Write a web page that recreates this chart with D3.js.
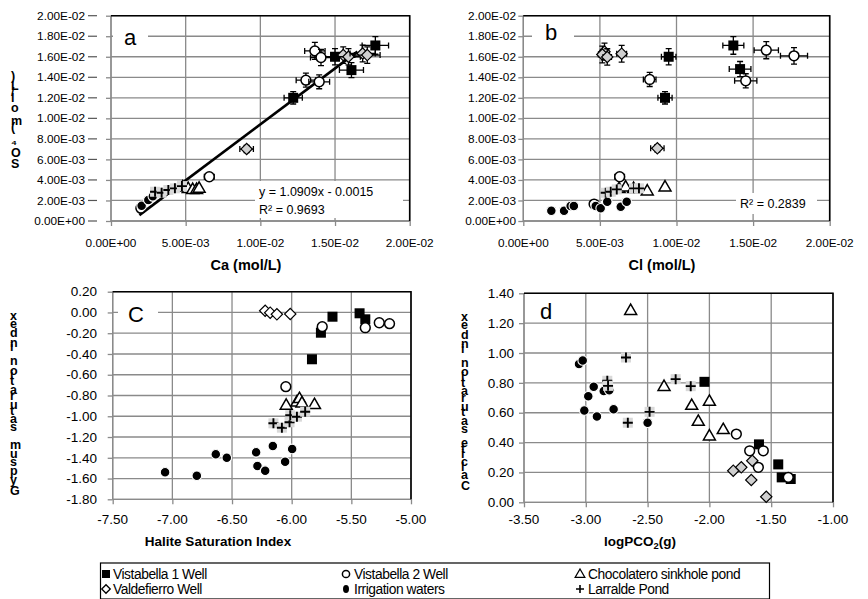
<!DOCTYPE html>
<html><head><meta charset="utf-8">
<script src="https://cdn.jsdelivr.net/npm/d3@7"></script>
<style>
html,body{margin:0;padding:0;background:#fff;}
svg{display:block;font-family:"Liberation Sans",Arial,sans-serif;}
</style></head>
<body><svg id="c" width="868" height="599"></svg>
<script>
// ---------- DATA ----------
const seriesNames = ["Vistabella 1 Well","Vistabella 2 Well","Chocolatero sinkhole pond","Valdefierro Well","Irrigation waters","Larralde Pond"];
// Panel a: Ca (mol/L) vs SO4 (mol/L)
const aV1 = [[0.0177,0.0171],[0.0150,0.0160],[0.0161,0.0147],[0.0122,0.0120]];
const aV2 = [[0.01365,0.01657],[0.01406,0.01593],[0.01305,0.01372],[0.01394,0.01356],[0.00658,0.00431],[0.00200,0.00125]];
const aCh = [[0.00480,0.00334],[0.00517,0.00320],[0.00547,0.00310],[0.00573,0.00310],[0.00590,0.00322]];
const aVa = [[0.01555,0.01616],[0.01590,0.01600],[0.01685,0.01632],[0.01716,0.01616],[0.00908,0.00701]];
const aIr = [[0.00205,0.00148],[0.00250,0.00205],[0.00280,0.00240],[0.00330,0.00280]];
const aLa = [[0.00295,0.00285],[0.00339,0.00275],[0.00384,0.00302],[0.00428,0.00318],[0.00475,0.00340]];
const aFit = {slope:1.0909, intercept:-0.0015, r2:0.9693, xFrom:0.00190, xTo:0.01650};
// Panel b: Cl (mol/L) vs SO4 (mol/L)
const bV1 = [[0.01371,0.0171],[0.00949,0.0160],[0.01415,0.0148],[0.00925,0.0120]];
const bV2 = [[0.01586,0.01664],[0.01767,0.01609],[0.01452,0.01366],[0.00825,0.01379],[0.00629,0.00431],[0.00462,0.00165]];
const bCh = [[0.00625,0.00318],[0.00668,0.00334],[0.00809,0.00295],[0.00925,0.00334],[0.00720,0.00320]];
const bVa = [[0.00530,0.01650],[0.00516,0.01622],[0.00548,0.01598],[0.00642,0.01630],[0.00875,0.00708]];
const bIr = [[0.00183,0.00100],[0.00266,0.00100],[0.00309,0.00146],[0.00330,0.00146],[0.00473,0.00146],[0.00505,0.00124],[0.00548,0.00188],[0.00636,0.00139],[0.00675,0.00188]];
const bLa = [[0.00538,0.00275],[0.00571,0.00285],[0.00610,0.00308],[0.00723,0.00318],[0.00755,0.00318]];
const bR2 = 0.2839;
// Panel c: Halite SI vs Gypsum SI
const cV1 = [[-5.658,-0.041],[-5.431,-0.008],[-5.383,-0.066],[-5.755,-0.195],[-5.830,-0.451]];
const cV2 = [[-6.049,-0.715],[-5.744,-0.137],[-5.383,-0.147],[-5.266,-0.099],[-5.180,-0.108]];
const cCh = [[-6.046,-0.891],[-5.956,-0.860],[-5.935,-0.827],[-5.914,-0.869],[-5.809,-0.885]];
const cVa = [[-6.222,0.017],[-6.180,-0.002],[-6.124,-0.018],[-6.012,-0.015]];
const cIr = [[-7.061,-1.540],[-6.795,-1.573],[-6.636,-1.366],[-6.544,-1.399],[-6.298,-1.347],[-6.287,-1.479],[-6.222,-1.524],[-6.158,-1.287],[-6.055,-1.438],[-5.996,-1.315]];
const cLa = [[-6.153,-1.068],[-6.082,-1.110],[-6.018,-1.058],[-6.012,-0.990],[-5.956,-1.004],[-5.887,-0.956]];
// Panel d: logPCO2(g) vs Calcite SI
const dV1 = [[-2.040,0.807],[-1.599,0.388],[-1.443,0.254],[-1.415,0.167],[-1.342,0.156]];
const dV2 = [[-1.782,0.457],[-1.674,0.345],[-1.564,0.345],[-1.604,0.234],[-1.362,0.167]];
const dCh = [[-2.637,1.287],[-2.367,0.778],[-2.143,0.651],[-2.090,0.544],[-2.000,0.678],[-2.000,0.446],[-1.888,0.489]];
const dVa = [[-1.807,0.212],[-1.742,0.234],[-1.653,0.278],[-1.661,0.149],[-1.540,0.037]];
const dIr = [[-3.055,0.926],[-3.025,0.950],[-2.936,0.774],[-2.980,0.711],[-3.012,0.615],[-2.910,0.575],[-2.855,0.745],[-2.775,0.623],[-2.500,0.533],[-2.810,0.750]];
const dLa = [[-2.826,0.814],[-2.820,0.780],[-2.675,0.970],[-2.660,0.533],[-2.484,0.606],[-2.273,0.825],[-2.151,0.778]];
// Ticks
const concTicks = [0,0.002,0.004,0.006,0.008,0.010,0.012,0.014,0.016,0.018,0.020];
const concXTicks = [0,0.005,0.010,0.015,0.020];
const haliteTicks = [-7.5,-7.0,-6.5,-6.0,-5.5,-5.0];
const gypsumTicks = [0.2,0,-0.2,-0.4,-0.6,-0.8,-1.0,-1.2,-1.4,-1.6,-1.8];
const pco2Ticks = [-3.5,-3.0,-2.5,-2.0,-1.5,-1.0];
const calciteTicks = [0,0.2,0.4,0.6,0.8,1.0,1.2,1.4];
const relErr = 0.05; // relative error bars on well samples (panels a, b)

// ---------- HELPERS ----------
function fmtE(v){
  if(v===0) return "0.00E+00";
  const s=v.toExponential(2).toUpperCase();
  const m=s.match(/^([\d.]+)E([+-])(\d+)$/);
  return m[1]+"E"+m[2]+(m[3].length<2?"0"+m[3]:m[3]);
}
function fmt2(v){ return (Math.abs(v)<1e-9?0:v).toFixed(2); }

const svg=d3.select("#c");
const GRID="#8a8a8a";

const panels=[
 {id:"a", x0:111, x1:409.7, yT:15.7, yB:221, xd:[0,0.02], yd:[0,0.02], xt:concXTicks, yt:concTicks, fx:fmtE, fy:fmtE,
  fs:11.8, ylabX:85, tickLabY:247, title:"Ca (mol/L)", titleX:246, titleY:270, titleFs:14.5,
  ylab:"SO\u2084 (mol/L)", ylabLeft:11, ylabBottom:168, ylabLen:92, ylabFs:12.5,
  letter:"a", letterBox:[113,27,35,21], letterX:130, letterY:45,
  data:[aV1,aV2,aCh,aVa,aIr,aLa], err:true},
 {id:"b", x0:523.3, x1:829.7, yT:15.7, yB:221, xd:[0,0.02], yd:[0,0.02], xt:concXTicks, yt:concTicks, fx:fmtE, fy:fmtE,
  fs:11.8, ylabX:516, tickLabY:247, title:"Cl (mol/L)", titleX:662, titleY:270, titleFs:14.5,
  letter:"b", letterBox:[532,24,42,21], letterX:551, letterY:40,
  data:[bV1,bV2,bCh,bVa,bIr,bLa], err:true},
 {id:"c", x0:112.7, x1:411, yT:291.7, yB:499.3, xd:[-7.5,-5.0], yd:[-1.8,0.2], xt:haliteTicks, yt:gypsumTicks, fx:fmt2, fy:fmt2,
  fs:13.5, ylabX:97, tickLabY:524, title:"Halite Saturation Index", titleX:218, titleY:546, titleFs:13.5,
  ylab:"Gypsum saturation index", ylabLeft:10, ylabBottom:495, ylabLen:182, ylabFs:12.5,
  letter:"C", letterBox:[118,302,40,21], letterX:136, letterY:322,
  data:[cV1,cV2,cCh,cVa,cIr,cLa], err:false, valdWhite:true},
 {id:"d", x0:524, x1:833, yT:293.3, yB:502.3, xd:[-3.5,-1.0], yd:[0,1.4], xt:pco2Ticks, yt:calciteTicks, fx:fmt2, fy:fmt2,
  fs:13.5, ylabX:514, tickLabY:524, title:"logPCO", titleX:640, titleY:546, titleFs:13.5,
  ylab:"Calcite saturation index", ylabLeft:461, ylabBottom:490, ylabLen:176, ylabFs:12.5,
  letter:"d", letterBox:[527,300,42,20], letterX:546, letterY:319,
  data:[dV1,dV2,dCh,dVa,dIr,dLa], err:false}
];

function drawMarker(g, type, x, y, opt){
  opt=opt||{};
  if(type===0){ // filled square
    g.append("rect").attr("x",x-5).attr("y",y-5).attr("width",10).attr("height",10).attr("fill","#000");
  } else if(type===1){ // open circle
    g.append("circle").attr("cx",x).attr("cy",y).attr("r",4.9).attr("fill","#fff").attr("stroke","#000").attr("stroke-width",1.5);
  } else if(type===2){ // open triangle
    const s=d3.symbol().type(d3.symbolTriangle).size(62);
    g.append("path").attr("d",s()).attr("transform",`translate(${x},${y+0.8})`).attr("fill","#fff").attr("stroke","#000").attr("stroke-width",1.5);
  } else if(type===3){ // diamond
    g.append("rect").attr("x",-4).attr("y",-4).attr("width",8).attr("height",8)
      .attr("transform",`translate(${x},${y}) rotate(45)`)
      .attr("fill",opt.white?"#fff":"#cfcfcf").attr("stroke","#000").attr("stroke-width",1.2);
  } else if(type===4){ // irrigation filled circle
    g.append("circle").attr("cx",x).attr("cy",y).attr("r",4.8).attr("fill","#000").attr("stroke","#fff").attr("stroke-width",1.1);
  } else if(type===5){ // plus on light gray square
    g.append("rect").attr("x",x-5).attr("y",y-5).attr("width",10).attr("height",10).attr("fill","#d9d9d9");
    g.append("path").attr("d",`M${x-5},${y}H${x+5}M${x},${y-5}V${y+5}`).attr("stroke","#000").attr("stroke-width",1.9);
  }
}

panels.forEach(p=>{
  const x=d3.scaleLinear().domain(p.xd).range([p.x0,p.x1]);
  const y=d3.scaleLinear().domain(p.yd).range([p.yB,p.yT]);
  const g=svg.append("g");
  // gridlines
  g.selectAll(".hg").data(p.yt).enter().append("line")
    .attr("x1",p.x0).attr("x2",p.x1).attr("y1",d=>y(d)).attr("y2",d=>y(d))
    .attr("stroke",GRID).attr("stroke-width",1.3);
  g.selectAll(".vg").data(p.xt).enter().append("line")
    .attr("y1",p.yT).attr("y2",p.yB).attr("x1",d=>x(d)).attr("x2",d=>x(d))
    .attr("stroke",GRID).attr("stroke-width",1.3);
  // axes via d3
  const ya=d3.axisLeft(y).tickValues(p.yt).tickSize(5).tickFormat("");
  const ga=g.append("g").attr("transform",`translate(${p.x0},0)`).call(ya);
  ga.selectAll("path,line").attr("stroke",GRID).attr("stroke-width",1.3);
  const xa=d3.axisBottom(x).tickValues(p.xt).tickSize(5).tickFormat("");
  const gb=g.append("g").attr("transform",`translate(0,${p.yB})`).call(xa);
  gb.selectAll("path,line").attr("stroke",GRID).attr("stroke-width",1.3);
  gb.select("path").attr("d",`M${p.x0},0H${p.x1}`);
  ga.select("path").attr("d",`M0,${p.yB}V${p.yT}`);
  // top/right borders black
  g.append("path").attr("d",`M${p.x0},${p.yT}H${p.x1}V${p.yB}`).attr("fill","none").attr("stroke","#000").attr("stroke-width",1.6);
  // extra dashes (panel a)
  if(p.id==="a"){
    g.selectAll(".dash").data(p.yt).enter().append("line")
      .attr("x1",88).attr("x2",97).attr("y1",d=>y(d)).attr("y2",d=>y(d)).attr("stroke","#555").attr("stroke-width",1.2);
  }
  // tick labels
  g.selectAll(".yl").data(p.yt).enter().append("text")
    .attr("x",p.ylabX).attr("y",d=>y(d)+p.fs*0.35).attr("text-anchor","end")
    .attr("font-size",p.fs).attr("fill","#000").text(p.fy);
  g.selectAll(".xl").data(p.xt).enter().append("text")
    .attr("x",d=>x(d)).attr("y",p.tickLabY).attr("text-anchor","middle")
    .attr("font-size",p.fs).attr("fill","#000").text(p.fx);
  // axis title
  const t=g.append("text").attr("x",p.titleX).attr("y",p.titleY).attr("text-anchor","middle")
    .attr("font-size",p.titleFs).attr("font-weight","bold").text(p.title);
  if(p.id==="d"){
    t.append("tspan").attr("font-size",p.titleFs*0.7).attr("dy",3).text("2");
    t.append("tspan").attr("dy",-3).text("(g)");
  }
  // vertical y label: rotated baseline with upright glyphs (as in the reference)
  if(p.ylab){
    g.append("text")
      .attr("transform",`translate(${p.ylabLeft},${p.ylabBottom}) rotate(-90)`)
      .attr("x",0).attr("y",0).attr("rotate",90)
      .attr("textLength",p.ylabLen).attr("lengthAdjust","spacing")
      .attr("font-size",p.ylabFs).attr("font-weight","bold").text(p.ylab);
  }
  // panel letter
  g.append("rect").attr("x",p.letterBox[0]).attr("y",p.letterBox[1]).attr("width",p.letterBox[2]).attr("height",p.letterBox[3]).attr("fill","#fff");
  g.append("text").attr("x",p.letterX).attr("y",p.letterY).attr("text-anchor","middle").attr("font-size",22).text(p.letter);
  // regression
  if(p.id==="a"){
    g.append("rect").attr("x",255).attr("y",181).attr("width",148).attr("height",37).attr("fill","#fff");
    g.append("line").attr("x1",x(aFit.xFrom)).attr("y1",y(aFit.slope*aFit.xFrom+aFit.intercept))
      .attr("x2",x(aFit.xTo)).attr("y2",y(aFit.slope*aFit.xTo+aFit.intercept))
      .attr("stroke","#000").attr("stroke-width",2.6);
    g.append("text").attr("x",259).attr("y",196).attr("font-size",12.5).text("y = "+aFit.slope+"x - "+Math.abs(aFit.intercept).toFixed(4));
    g.append("text").attr("x",259).attr("y",214).attr("font-size",12.5).text("R² = "+aFit.r2);
  }
  if(p.id==="b"){
    g.append("rect").attr("x",736).attr("y",193).attr("width",81).attr("height",21).attr("fill","#fff");
    g.append("text").attr("x",740).attr("y",208).attr("font-size",12.5).text("R² = "+bR2);
  }
  // markers
  const mg=g.append("g");
  p.data.forEach((arr,si)=>{
    arr.forEach(d=>{
      const cx=x(d[0]), cy=y(d[1]);
      if(p.err && (si===0||si===1||si===3)){
        const ex=d[0]*relErr, ey=d[1]*relErr;
        const x1=x(d[0]-ex), x2=x(d[0]+ex), y1=y(d[1]-ey), y2=y(d[1]+ey);
        mg.append("path").attr("d",`M${x1},${cy}H${x2}M${x1},${cy-3}V${cy+3}M${x2},${cy-3}V${cy+3}M${cx},${y1}V${y2}M${cx-3},${y1}H${cx+3}M${cx-3},${y2}H${cx+3}`)
          .attr("stroke","#000").attr("stroke-width",1.3).attr("fill","none");
      }
      drawMarker(mg, si, cx, cy, {white:p.valdWhite});
    });
  });
});

// ---------- LEGEND ----------
const lg=svg.append("g");
lg.append("rect").attr("x",100.5).attr("y",563).attr("width",669).attr("height",36).attr("fill","#fff").attr("stroke","#000").attr("stroke-width",1.2);
const legCols=[106,346,580], legRows=[574,589];
const legTextStarts=[113,354,588];
seriesNames.forEach((n,i)=>{
  const col=i%3, row=Math.floor(i/3);
  const mx=legCols[col], my=legRows[row];
  if(i===0) lg.append("rect").attr("x",mx-4).attr("y",my-4).attr("width",8).attr("height",8).attr("fill","#000");
  if(i===1) lg.append("circle").attr("cx",mx).attr("cy",my).attr("r",3.6).attr("fill","#fff").attr("stroke","#000").attr("stroke-width",1.5);
  if(i===2) lg.append("path").attr("d",d3.symbol().type(d3.symbolTriangle).size(40)()).attr("transform",`translate(${mx},${my+0.5})`).attr("fill","#fff").attr("stroke","#000").attr("stroke-width",1.3);
  if(i===3) lg.append("rect").attr("x",-3).attr("y",-3).attr("width",6).attr("height",6).attr("transform",`translate(${mx},${my}) rotate(45)`).attr("fill","#fff").attr("stroke","#000").attr("stroke-width",1.3);
  if(i===4) lg.append("ellipse").attr("cx",mx).attr("cy",my).attr("rx",3).attr("ry",4).attr("fill","#000");
  if(i===5) lg.append("path").attr("d",`M${mx-4},${my}H${mx+4}M${mx},${my-4}V${my+4}`).attr("stroke","#000").attr("stroke-width",1.6);
  lg.append("text").attr("x",legTextStarts[col]).attr("y",my+5).attr("font-size",13.8).attr("letter-spacing",-0.45).text(n);
});
</script></body></html>
